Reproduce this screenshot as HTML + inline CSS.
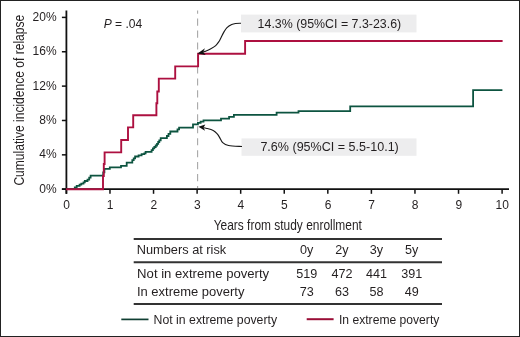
<!DOCTYPE html>
<html><head><meta charset="utf-8"><title>Cumulative incidence of relapse</title>
<style>
html,body{margin:0;padding:0;background:#fff;}
.fig{position:relative;width:520px;height:337px;box-sizing:border-box;border:1px solid #222;background:#fff;overflow:hidden;}
svg{position:absolute;left:-1px;top:-1px;will-change:transform;}
text{font-family:"Liberation Sans",sans-serif;fill:#231f20;}
.t12{font-size:12px;}
.t14{font-size:15px;}
</style></head>
<body><div class="fig">
<svg width="520" height="337" viewBox="0 0 520 337">
<line x1="66.4" y1="10.5" x2="66.4" y2="193.8" stroke="#111" stroke-width="1.8"/>
<line x1="61.9" y1="189.2" x2="509" y2="189.2" stroke="#111" stroke-width="1.8"/>
<line x1="61.9" y1="189.20" x2="66.4" y2="189.20" stroke="#111" stroke-width="1.5"/>
<text x="56.6" y="192.60" text-anchor="end" class="t12">0%</text>
<line x1="61.9" y1="154.84" x2="66.4" y2="154.84" stroke="#111" stroke-width="1.5"/>
<text x="56.6" y="158.24" text-anchor="end" class="t12">4%</text>
<line x1="61.9" y1="120.48" x2="66.4" y2="120.48" stroke="#111" stroke-width="1.5"/>
<text x="56.6" y="123.88" text-anchor="end" class="t12">8%</text>
<line x1="61.9" y1="86.12" x2="66.4" y2="86.12" stroke="#111" stroke-width="1.5"/>
<text x="56.6" y="89.52" text-anchor="end" class="t12">12%</text>
<line x1="61.9" y1="51.76" x2="66.4" y2="51.76" stroke="#111" stroke-width="1.5"/>
<text x="56.6" y="55.16" text-anchor="end" class="t12">16%</text>
<line x1="61.9" y1="17.40" x2="66.4" y2="17.40" stroke="#111" stroke-width="1.5"/>
<text x="56.6" y="20.80" text-anchor="end" class="t12">20%</text>
<line x1="66.40" y1="189.2" x2="66.40" y2="193.8" stroke="#111" stroke-width="1.5"/>
<text x="66.60" y="209.3" text-anchor="middle" class="t12">0</text>
<line x1="109.97" y1="189.2" x2="109.97" y2="193.8" stroke="#111" stroke-width="1.5"/>
<text x="110.17" y="209.3" text-anchor="middle" class="t12">1</text>
<line x1="153.54" y1="189.2" x2="153.54" y2="193.8" stroke="#111" stroke-width="1.5"/>
<text x="153.74" y="209.3" text-anchor="middle" class="t12">2</text>
<line x1="197.11" y1="189.2" x2="197.11" y2="193.8" stroke="#111" stroke-width="1.5"/>
<text x="197.31" y="209.3" text-anchor="middle" class="t12">3</text>
<line x1="240.68" y1="189.2" x2="240.68" y2="193.8" stroke="#111" stroke-width="1.5"/>
<text x="240.88" y="209.3" text-anchor="middle" class="t12">4</text>
<line x1="284.25" y1="189.2" x2="284.25" y2="193.8" stroke="#111" stroke-width="1.5"/>
<text x="284.45" y="209.3" text-anchor="middle" class="t12">5</text>
<line x1="327.82" y1="189.2" x2="327.82" y2="193.8" stroke="#111" stroke-width="1.5"/>
<text x="328.02" y="209.3" text-anchor="middle" class="t12">6</text>
<line x1="371.39" y1="189.2" x2="371.39" y2="193.8" stroke="#111" stroke-width="1.5"/>
<text x="371.59" y="209.3" text-anchor="middle" class="t12">7</text>
<line x1="414.96" y1="189.2" x2="414.96" y2="193.8" stroke="#111" stroke-width="1.5"/>
<text x="415.16" y="209.3" text-anchor="middle" class="t12">8</text>
<line x1="458.53" y1="189.2" x2="458.53" y2="193.8" stroke="#111" stroke-width="1.5"/>
<text x="458.73" y="209.3" text-anchor="middle" class="t12">9</text>
<line x1="502.10" y1="189.2" x2="502.10" y2="193.8" stroke="#111" stroke-width="1.5"/>
<text x="502.30" y="209.3" text-anchor="middle" class="t12">10</text>
<line x1="197.6" y1="10.5" x2="197.6" y2="188" stroke="#a8a8a8" stroke-width="1.1" stroke-dasharray="7.1 4.86" stroke-dashoffset="3.86"/>
<path d="M66,189.2 H74.8 V187.4 H76.7 V185.8 H79.6 V184.6 H81.3 V183.6 H83.5 V182.3 H84.8 V181.0 H87.5 V179.7 H89.2 V177.6 H90.6 V175.7 H103.2 V172.3 H104.4 V168.8 H109.8 V167.3 H121.0 V165.8 H126.7 V162.7 H132.3 V160.2 H133.7 V158.3 H135.1 V156.5 H138.6 V155.4 H141.6 V154.2 H144.3 V153.4 H145.6 V151.9 H151.6 V150.2 H152.9 V148.4 H154.3 V147.0 H155.7 V145.5 H157.0 V143.8 H158.2 V142.0 H159.3 V140.4 H160.7 V138.2 H166.9 V136.0 H168.5 V133.8 H170.3 V131.5 H177.5 V129.3 H179.1 V127.7 H193.0 V124.4 H197.9 V122.8 H200.6 V121.6 H203.5 V120.3 H221.0 V118.7 H229.1 V116.9 H233.9 V114.9 H276.6 V112.7 H298.5 V111.1 H350.2 V106.4 H473.1 V90.1 H502.4" fill="none" stroke="#0d5440" stroke-width="1.8"/>
<path d="M66,189.2 H103 V176 H103.8 V164 H104.6 V152.4 H121.2 V140 H128 V127.4 H133.2 V115.2 H156.4 V103.3 H157.3 V91.5 H158.8 V78.6 H175.2 V66.4 H198.1 V53.7 H245.1 V41.0 H502.6" fill="none" stroke="#ad1040" stroke-width="1.9"/>
<text x="103.7" y="27.5" class="t12" textLength="38.6" lengthAdjust="spacingAndGlyphs"><tspan font-style="italic">P</tspan> = .04</text>
<rect x="241" y="14.6" width="175.5" height="17.8" fill="#ededee"/>
<text x="257.6" y="27.5" class="t12" textLength="143.6" lengthAdjust="spacingAndGlyphs">14.3% (95%CI = 7.3-23.6)</text>
<rect x="241.5" y="138.4" width="175" height="17.4" fill="#ededee"/>
<text x="260.4" y="151.3" class="t12" textLength="138.4" lengthAdjust="spacingAndGlyphs">7.6% (95%CI = 5.5-10.1)</text>
<path d="M241.0,23.2 C240.08,23.25 237.05,23.27 235.5,23.5 C233.95,23.73 233.12,23.90 231.7,24.6 C230.28,25.30 228.33,26.40 227,27.7 C225.67,29.00 224.70,30.73 223.7,32.4 C222.70,34.07 221.78,36.18 221,37.7 C220.22,39.22 219.88,40.18 219,41.5 C218.12,42.82 217.13,44.35 215.7,45.6 C214.27,46.85 212.18,48.03 210.4,49.0 C208.62,49.97 206.27,50.88 205,51.4 C203.73,51.92 203.17,51.98 202.8,52.1" fill="none" stroke="#1a1a1a" stroke-width="1.15"/>
<path d="M197.5,53.6 L205.0,48.3 L203.1,51.9 L205.7,54.9 Z" fill="#111"/>
<path d="M242.0,146.5 C239.77,146.33 231.82,146.15 228.6,145.5 C225.38,144.85 224.18,143.92 222.7,142.6 C221.22,141.28 220.62,139.07 219.7,137.6 C218.78,136.13 218.28,135.00 217.2,133.8 C216.12,132.60 215.05,131.33 213.2,130.4 C211.35,129.47 207.72,128.65 206.1,128.2 C204.48,127.75 203.93,127.78 203.5,127.7" fill="none" stroke="#1a1a1a" stroke-width="1.15"/>
<path d="M198.4,126.8 L205.3,124.4 L203.6,127.6 L205.0,130.8 Z" fill="#111"/>
<text x="213.7" y="229.6" class="t14" textLength="148.2" lengthAdjust="spacingAndGlyphs">Years from study enrollment</text>
<text transform="translate(24.0,185.6) rotate(-90)" x="0" y="0" class="t14" style="font-size:15.5px" textLength="170.8" lengthAdjust="spacingAndGlyphs">Cumulative incidence of relapse</text>
<line x1="133.7" y1="239" x2="442" y2="239" stroke="#333" stroke-width="2"/>
<line x1="133.7" y1="262.2" x2="442" y2="262.2" stroke="#333" stroke-width="2"/>
<line x1="133.7" y1="304" x2="442" y2="304" stroke="#333" stroke-width="2"/>
<text x="136.8" y="253.7" class="t12" textLength="89.4" lengthAdjust="spacingAndGlyphs">Numbers at risk</text>
<text x="137.1" y="277.5" class="t12" textLength="132.1" lengthAdjust="spacingAndGlyphs">Not in extreme poverty</text>
<text x="136.9" y="295.8" class="t12" textLength="107.5" lengthAdjust="spacingAndGlyphs">In extreme poverty</text>
<text x="306.7" y="253.9" text-anchor="middle" class="t12" style="font-size:12.6px">0y</text>
<text x="342" y="253.9" text-anchor="middle" class="t12" style="font-size:12.6px">2y</text>
<text x="376.4" y="253.9" text-anchor="middle" class="t12" style="font-size:12.6px">3y</text>
<text x="411.7" y="253.9" text-anchor="middle" class="t12" style="font-size:12.6px">5y</text>
<text x="306.7" y="277.6" text-anchor="middle" class="t12" style="font-size:12.6px">519</text>
<text x="342" y="277.6" text-anchor="middle" class="t12" style="font-size:12.6px">472</text>
<text x="376.4" y="277.6" text-anchor="middle" class="t12" style="font-size:12.6px">441</text>
<text x="411.7" y="277.6" text-anchor="middle" class="t12" style="font-size:12.6px">391</text>
<text x="306.7" y="295.9" text-anchor="middle" class="t12" style="font-size:12.6px">73</text>
<text x="342" y="295.9" text-anchor="middle" class="t12" style="font-size:12.6px">63</text>
<text x="376.4" y="295.9" text-anchor="middle" class="t12" style="font-size:12.6px">58</text>
<text x="411.7" y="295.9" text-anchor="middle" class="t12" style="font-size:12.6px">49</text>
<line x1="121.3" y1="319.4" x2="148.5" y2="319.4" stroke="#103f33" stroke-width="1.7"/>
<text x="153.6" y="323.6" class="t12" textLength="123.5" lengthAdjust="spacingAndGlyphs">Not in extreme poverty</text>
<line x1="306.7" y1="319.2" x2="333.6" y2="319.2" stroke="#9a0d36" stroke-width="2"/>
<text x="339" y="323.6" class="t12" textLength="100.3" lengthAdjust="spacingAndGlyphs">In extreme poverty</text>
</svg>
</div></body></html>
